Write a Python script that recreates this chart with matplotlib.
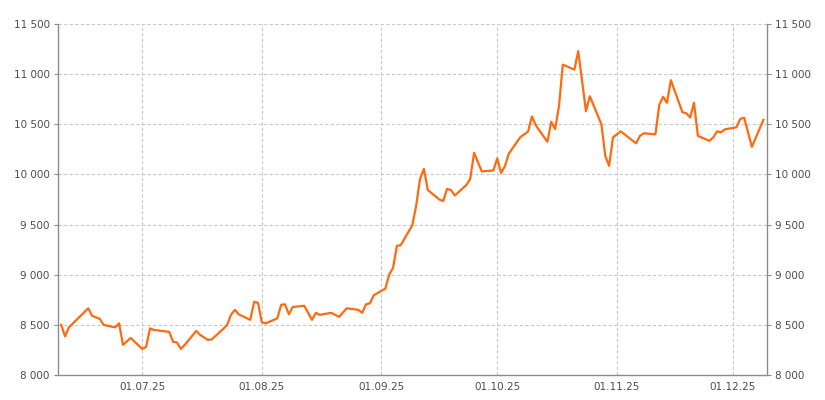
import matplotlib
matplotlib.use("Agg")
import matplotlib.pyplot as plt
import matplotlib.dates as mdates
from matplotlib.ticker import FuncFormatter, MultipleLocator
import pandas as pd

# values
dates = [
    "2025-06-10", "2025-06-11", "2025-06-12", "2025-06-17", "2025-06-18", "2025-06-20",
    "2025-06-21", "2025-06-24", "2025-06-25", "2025-06-26", "2025-06-28",
    "2025-07-01", "2025-07-02", "2025-07-03", "2025-07-04", "2025-07-08", "2025-07-09",
    "2025-07-10", "2025-07-11", "2025-07-12", "2025-07-15", "2025-07-16", "2025-07-18",
    "2025-07-19", "2025-07-22", "2025-07-23", "2025-07-24", "2025-07-25", "2025-07-26",
    "2025-07-29", "2025-07-30", "2025-07-31",
    "2025-08-01", "2025-08-02", "2025-08-05", "2025-08-06", "2025-08-07", "2025-08-08",
    "2025-08-09", "2025-08-12", "2025-08-14", "2025-08-15", "2025-08-16", "2025-08-19",
    "2025-08-21", "2025-08-23", "2025-08-26", "2025-08-27", "2025-08-28", "2025-08-29",
    "2025-08-30",
    "2025-09-02", "2025-09-03", "2025-09-04", "2025-09-05", "2025-09-06", "2025-09-09",
    "2025-09-10", "2025-09-11", "2025-09-12", "2025-09-13", "2025-09-16", "2025-09-17",
    "2025-09-18", "2025-09-19", "2025-09-20", "2025-09-23", "2025-09-24", "2025-09-25",
    "2025-09-27", "2025-09-30",
    "2025-10-01", "2025-10-02", "2025-10-03", "2025-10-04", "2025-10-07", "2025-10-09",
    "2025-10-10", "2025-10-11", "2025-10-14", "2025-10-15", "2025-10-16", "2025-10-17",
    "2025-10-18", "2025-10-21", "2025-10-22", "2025-10-24", "2025-10-25", "2025-10-28",
    "2025-10-29", "2025-10-30", "2025-10-31",
    "2025-11-02", "2025-11-06", "2025-11-07", "2025-11-08", "2025-11-11", "2025-11-12",
    "2025-11-13", "2025-11-14", "2025-11-15", "2025-11-18", "2025-11-19", "2025-11-20",
    "2025-11-21", "2025-11-22", "2025-11-25", "2025-11-26", "2025-11-27", "2025-11-28",
    "2025-11-29",
    "2025-12-02", "2025-12-03", "2025-12-04", "2025-12-06", "2025-12-09",
]
values = [
    8500, 8385, 8475, 8665, 8590, 8560,
    8500, 8475, 8515, 8300, 8370,
    8260, 8280, 8465, 8450, 8430, 8330,
    8325, 8260, 8300, 8440, 8400, 8350,
    8355, 8460, 8500, 8600, 8650, 8605,
    8550, 8730, 8720,
    8525, 8515, 8565, 8700, 8705, 8605,
    8678, 8690, 8550, 8620, 8600, 8620,
    8580, 8665, 8650, 8620, 8705, 8715,
    8795,
    8862, 9000, 9068, 9288, 9295, 9495,
    9690, 9955, 10055, 9845, 9750, 9735,
    9855, 9845, 9790, 9895, 9955, 10215,
    10030, 10040,
    10160, 10015, 10082, 10208, 10372, 10428,
    10578, 10490, 10325, 10525, 10452, 10680,
    11095, 11045, 11230, 10630, 10780, 10500,
    10185, 10085, 10370,
    10430, 10310, 10385, 10410, 10400, 10695,
    10775, 10715, 10940, 10620, 10610, 10568,
    10715, 10385, 10335, 10370, 10430, 10420,
    10450,
    10470, 10555, 10565, 10275, 10545,
]

x = pd.to_datetime(dates)

fig = plt.figure(figsize=(8.25, 4), dpi=100)
ax = fig.add_axes([0.0703, 0.0625, 0.8590, 0.8775])

ax.plot(x, values, color="#ff6a10", linewidth=1.6, solid_joinstyle="round")

ax.set_ylim(8000, 11500)
ax.set_xlim(x[0] - pd.Timedelta(hours=20), x[-1] + pd.Timedelta(hours=20))

ax.yaxis.set_major_locator(MultipleLocator(500))
ax.yaxis.set_major_formatter(FuncFormatter(lambda v, p: f"{int(v):,}".replace(",", " ")))
ax.xaxis.set_major_locator(mdates.MonthLocator(bymonthday=1))
ax.xaxis.set_major_formatter(mdates.DateFormatter("%d.%m.%y"))

ax.grid(True, color="#c8c8c8", linestyle=(0, (3, 2)), linewidth=0.8)
ax.set_axisbelow(True)
fig.canvas.draw()
ax.yaxis.get_gridlines()[-1].set_visible(False)

for s in ["left", "right", "bottom"]:
    ax.spines[s].set_color("#8c8c8c")
    ax.spines[s].set_linewidth(1.0)
ax.spines["top"].set_visible(False)

ax.tick_params(axis="y", which="both", left=True, right=True, labelleft=True, labelright=True,
               length=3, width=0.8, color="#8c8c8c", labelsize=7.5, labelcolor="#4d4d4d", pad=3)
ax.tick_params(axis="x", length=0, labelsize=7.5, labelcolor="#4d4d4d", pad=5)

fig.savefig("out.png", dpi=100)
